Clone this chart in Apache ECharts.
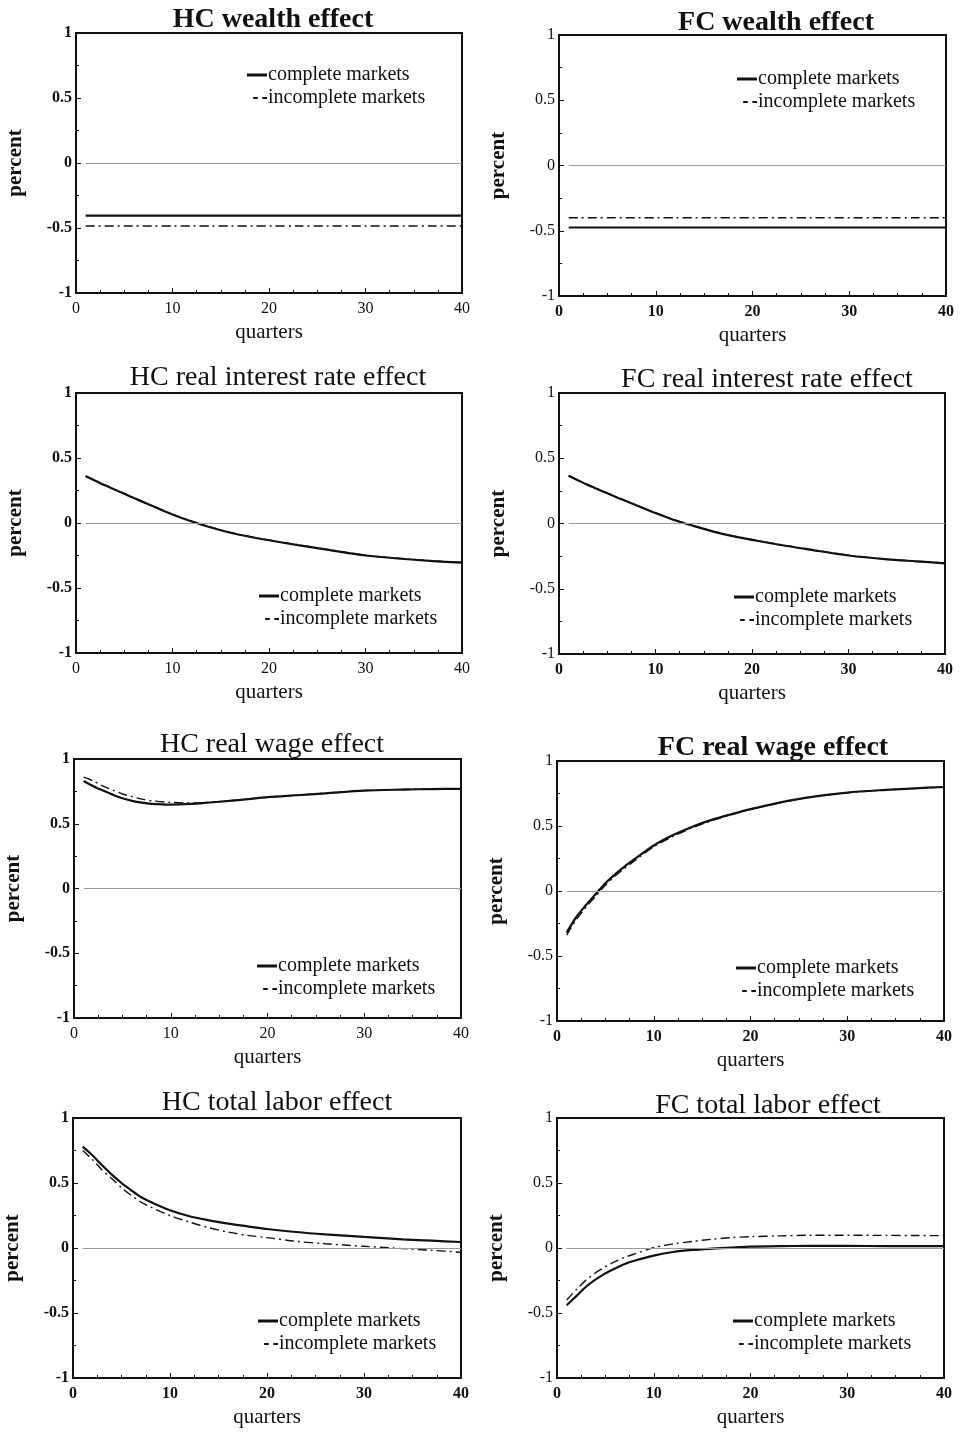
<!DOCTYPE html>
<html>
<head>
<meta charset="utf-8">
<script src="https://cdn.jsdelivr.net/npm/echarts@6/dist/echarts.min.js"></script>
<style>
html,body{margin:0;padding:0;background:#fff;}
#chart{width:960px;height:1434px;}
</style>
</head>
<body>
<div id="chart"></div>
<script>
// ---- data ----
const quarters = [1,2,3,4,5,6,7,8,10,12,14,16,18,20,23,26,30,34,37,40];
const xTicks = [0,10,20,30,40];
const yTicks = [-1,-0.5,0,0.5,1];
const seriesNames = ['complete markets','incomplete markets'];
const panelTitles = ['HC wealth effect','FC wealth effect','HC real interest rate effect','FC real interest rate effect','HC real wage effect','FC real wage effect','HC total labor effect','FC total labor effect'];

const hcWealthComplete   = [-0.405,-0.405,-0.405,-0.405,-0.405,-0.405,-0.405,-0.405,-0.405,-0.405,-0.405,-0.405,-0.405,-0.405,-0.405,-0.405,-0.405,-0.405,-0.405,-0.405];
const hcWealthIncomplete = [-0.485,-0.485,-0.485,-0.485,-0.485,-0.485,-0.485,-0.485,-0.485,-0.485,-0.485,-0.485,-0.485,-0.485,-0.485,-0.485,-0.485,-0.485,-0.485,-0.485];
const fcWealthComplete   = [-0.475,-0.475,-0.475,-0.475,-0.475,-0.475,-0.475,-0.475,-0.475,-0.475,-0.475,-0.475,-0.475,-0.475,-0.475,-0.475,-0.475,-0.475,-0.475,-0.475];
const fcWealthIncomplete = [-0.40,-0.40,-0.40,-0.40,-0.40,-0.40,-0.40,-0.40,-0.40,-0.40,-0.40,-0.40,-0.40,-0.40,-0.40,-0.40,-0.40,-0.40,-0.40,-0.40];

const hcRateComplete   = [0.36,0.325,0.29,0.257,0.225,0.192,0.16,0.128,0.065,0.012,-0.035,-0.075,-0.106,-0.133,-0.17,-0.205,-0.25,-0.277,-0.293,-0.305];
const hcRateIncomplete = [0.362,0.327,0.292,0.259,0.227,0.194,0.162,0.13,0.067,0.014,-0.033,-0.073,-0.104,-0.131,-0.168,-0.203,-0.248,-0.275,-0.291,-0.303];
const fcRateComplete   = [0.365,0.33,0.295,0.263,0.232,0.2,0.17,0.14,0.08,0.025,-0.02,-0.062,-0.097,-0.125,-0.165,-0.2,-0.245,-0.275,-0.29,-0.305];
const fcRateIncomplete = [0.367,0.332,0.297,0.265,0.234,0.202,0.172,0.142,0.082,0.027,-0.018,-0.06,-0.095,-0.123,-0.163,-0.198,-0.243,-0.273,-0.288,-0.303];

const hcWageComplete   = [0.83,0.79,0.756,0.725,0.697,0.677,0.663,0.654,0.648,0.653,0.664,0.676,0.69,0.705,0.72,0.735,0.756,0.764,0.768,0.77];
const hcWageIncomplete = [0.86,0.83,0.79,0.76,0.73,0.71,0.69,0.678,0.665,0.66,0.666,0.677,0.691,0.706,0.721,0.736,0.757,0.765,0.769,0.771];
const fcWageComplete   = [-0.32,-0.2,-0.108,-0.023,0.06,0.128,0.19,0.245,0.35,0.43,0.495,0.547,0.59,0.63,0.68,0.72,0.757,0.778,0.79,0.80];
const fcWageIncomplete = [-0.34,-0.22,-0.125,-0.04,0.045,0.115,0.175,0.232,0.34,0.42,0.487,0.541,0.586,0.627,0.678,0.719,0.756,0.777,0.789,0.799];

const hcLaborComplete   = [0.78,0.713,0.636,0.564,0.5,0.444,0.392,0.354,0.29,0.244,0.213,0.187,0.167,0.146,0.123,0.105,0.085,0.067,0.056,0.046];
const hcLaborIncomplete = [0.75,0.68,0.6,0.533,0.464,0.405,0.354,0.315,0.25,0.2,0.156,0.123,0.097,0.08,0.051,0.033,0.013,-0.005,-0.018,-0.033];
const fcLaborComplete   = [-0.44,-0.37,-0.298,-0.242,-0.195,-0.157,-0.123,-0.098,-0.059,-0.031,-0.015,-0.005,0.003,0.01,0.014,0.016,0.016,0.015,0.015,0.015];
const fcLaborIncomplete = [-0.40,-0.32,-0.247,-0.19,-0.144,-0.105,-0.072,-0.046,0.003,0.031,0.051,0.067,0.08,0.087,0.093,0.098,0.098,0.097,0.096,0.095];

const panelComplete   = [hcWealthComplete,fcWealthComplete,hcRateComplete,fcRateComplete,hcWageComplete,fcWageComplete,hcLaborComplete,fcLaborComplete];
const panelIncomplete = [hcWealthIncomplete,fcWealthIncomplete,hcRateIncomplete,fcRateIncomplete,hcWageIncomplete,fcWageIncomplete,hcLaborIncomplete,fcLaborIncomplete];

// ---- layout / style ----
const FONT = '"Liberation Serif","Times New Roman",serif';
const grids = [
  {left:76, top:33, width:386, height:260},
  {left:559,top:35, width:387, height:261},
  {left:76, top:393,width:386, height:260},
  {left:559,top:393,width:386, height:261},
  {left:74, top:759,width:387, height:259},
  {left:557,top:761,width:387, height:260},
  {left:73, top:1118,width:388,height:260},
  {left:557,top:1118,width:387,height:260}
];
const titlePos = [[268,17],[771,20],[273,375],[762,377],[267,742],[768,745],[272,1100],[763,1103]];
const titleBold = [true,true,false,false,false,true,false,false];
const legendPos = [[247,65],[737,69],[259,586],[734,587],[257,956],[736,958],[258,1311],[733,1311]];
const yBold = [true,false,true,false,true,false,true,false];
const xBold = [false,true,false,true,false,true,true,true];

const ICON_SOLID = 'path://M0,0H20V3H0Z';
const ICON_DASH  = 'path://M6,0H10.5V2H6Z M15,0H19.5V2H15Z M0,0H0.01V2H0Z';

const option = {
  backgroundColor:'#fff',
  animation:false,
  title: panelTitles.map((t,i)=>({
    text:t, left:titlePos[i][0], top:titlePos[i][1]-16, textAlign:'center',
    textStyle:{fontFamily:FONT,fontSize:28,fontWeight:titleBold[i]?'bold':'normal',color:'#111'}
  })),
  legend: grids.map((g,i)=>({
    data:[{name:seriesNames[0],icon:ICON_SOLID},{name:seriesNames[1],icon:ICON_DASH}],
    orient:'vertical', left:legendPos[i][0], top:legendPos[i][1],
    itemWidth:20, itemHeight:3, itemGap:3, padding:0, selectedMode:false,
    itemStyle:{color:'#111',borderWidth:0},
    textStyle:{fontFamily:FONT,fontSize:20,color:'#111',padding:[0,0,0,-4]}
  })),
  grid: grids.map(g=>Object.assign({show:true,borderColor:'#111',borderWidth:2,backgroundColor:'transparent'},g)),
  xAxis: grids.map((g,i)=>({
    type:'value', gridIndex:i, min:xTicks[0], max:xTicks[xTicks.length-1], interval:10,
    name:'quarters', nameLocation:'middle', nameGap:29,
    nameTextStyle:{fontFamily:FONT,fontSize:21,color:'#111'},
    axisLine:{show:false,onZero:false},
    axisTick:{show:true,inside:true,length:5,lineStyle:{color:'#111'}},
    minorTick:{show:true,splitNumber:4,length:3,lineStyle:{color:'#111'}},
    splitLine:{show:false},
    axisLabel:{fontFamily:FONT,fontSize:16,color:'#111',margin:8,fontWeight:xBold[i]?'bold':'normal'}
  })),
  yAxis: grids.map((g,i)=>({
    type:'value', gridIndex:i, min:yTicks[0], max:yTicks[yTicks.length-1], interval:0.5,
    name:'percent', nameLocation:'middle', nameGap:50, nameRotate:90,
    nameTextStyle:{fontFamily:FONT,fontSize:21,color:'#111',fontWeight:'bold'},
    axisLine:{show:false,onZero:false},
    axisTick:{show:true,inside:true,length:5,lineStyle:{color:'#111'}},
    minorTick:{show:true,splitNumber:2,length:3,lineStyle:{color:'#111'}},
    splitLine:{show:false},
    axisLabel:{fontFamily:FONT,fontSize:16,color:'#111',margin:4,fontWeight:yBold[i]?'bold':'normal'}
  })),
  series: []
};

grids.forEach((g,i)=>{
  option.series.push({
    name:seriesNames[1], type:'line', xAxisIndex:i, yAxisIndex:i,
    data:quarters.map((q,k)=>[q,panelIncomplete[i][k]]),
    smooth:0.3, symbol:'none', silent:true,
    lineStyle:{color:'#111',width:1.4,type:[9,4,2,4]},
    itemStyle:{color:'#111'},
    markLine:{silent:true,symbol:'none',label:{show:false},
      lineStyle:{color:'#999',width:1,type:'solid'},
      data:[[{coord:[1,0]},{coord:[40,0]}]]}
  });
  option.series.push({
    name:seriesNames[0], type:'line', xAxisIndex:i, yAxisIndex:i,
    data:quarters.map((q,k)=>[q,panelComplete[i][k]]),
    smooth:0.3, symbol:'none', silent:true,
    lineStyle:{color:'#111',width:2.2,type:'solid'},
    itemStyle:{color:'#111'}
  });
});

const chart = echarts.init(document.getElementById('chart'),null,{renderer:'canvas'});
chart.setOption(option);
</script>
</body>
</html>
